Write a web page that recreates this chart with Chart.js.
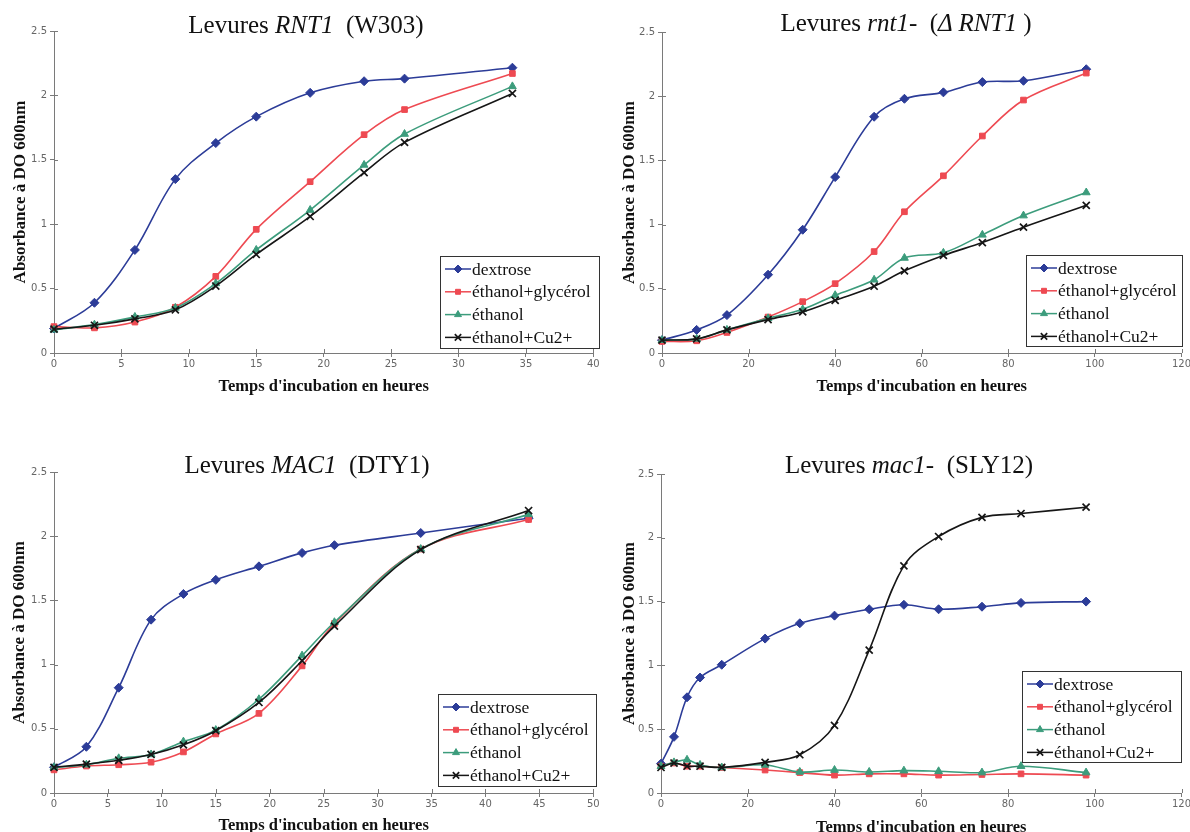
<!DOCTYPE html>
<html>
<head>
<meta charset="utf-8">
<script src="https://cdn.jsdelivr.net/npm/chart.js@4/dist/chart.umd.min.js"></script>
<style>
  body { margin: 0; background: #fff; }
  #page { position: relative; width: 1190px; height: 832px; overflow: hidden; background: #fff; }
  canvas { position: absolute; }
  .title {
    position: absolute; white-space: nowrap; transform: translate(-50%, -50%);
    font-family: "Liberation Serif", "Times New Roman", serif; font-size: 25px; color: #111;
  }
</style>
</head>
<body>
<div id="page">
  <canvas id="c1" width="600" height="400" style="left:0;top:0"></canvas>
  <canvas id="c2" width="590" height="400" style="left:600px;top:0"></canvas>
  <canvas id="c3" width="600" height="412" style="left:0;top:420px"></canvas>
  <canvas id="c4" width="590" height="412" style="left:600px;top:420px"></canvas>

  <div class="title" style="left:306px;top:25px">Levures <i>RNT1</i>&nbsp;&nbsp;(W303)</div>
  <div class="title" style="left:906px;top:23px">Levures <i>rnt1-</i>&nbsp;&nbsp;(<i>Δ RNT1</i> )</div>
  <div class="title" style="left:307px;top:465px">Levures <i>MAC1</i>&nbsp;&nbsp;(DTY1)</div>
  <div class="title" style="left:909px;top:465px">Levures <i>mac1-</i>&nbsp;&nbsp;(SLY12)</div>
</div>

<script>
// series names and tick labels
const seriesNames = ["dextrose", "éthanol+glycérol", "éthanol", "éthanol+Cu2+"];
const yTickLabels = ["0", "0.5", "1", "1.5", "2", "2.5"];
const xTicks40 = ["0", "5", "10", "15", "20", "25", "30", "35", "40"];
const xTicks50 = ["0", "5", "10", "15", "20", "25", "30", "35", "40", "45", "50"];
const xTicks120 = ["0", "20", "40", "60", "80", "100", "120"];

// Levures RNT1 (W303)
const hoursRnt1 = [0, 3, 6, 9, 12, 15, 19, 23, 26, 34];
const rnt1Dextrose = [0.19, 0.39, 0.80, 1.35, 1.63, 1.835, 2.02, 2.11, 2.13, 2.215];
const rnt1EthGly = [0.205, 0.195, 0.24, 0.355, 0.595, 0.96, 1.33, 1.695, 1.89, 2.17];
const rnt1Eth = [0.18, 0.22, 0.28, 0.35, 0.54, 0.80, 1.11, 1.46, 1.70, 2.07];
const rnt1Cu = [0.185, 0.215, 0.265, 0.335, 0.52, 0.765, 1.06, 1.40, 1.635, 2.015];

// Levures rnt1- (delta RNT1)
const hoursDelta = [0, 8, 15, 24.5, 32.5, 40, 49, 56, 65, 74, 83.5, 98];
const deltaDextrose = [0.10, 0.18, 0.295, 0.61, 0.96, 1.37, 1.84, 1.98, 2.03, 2.11, 2.12, 2.21];
const deltaEthGly = [0.09, 0.095, 0.16, 0.28, 0.40, 0.54, 0.79, 1.10, 1.38, 1.69, 1.97, 2.18];
const deltaEth = [0.10, 0.11, 0.18, 0.27, 0.34, 0.45, 0.57, 0.74, 0.78, 0.92, 1.07, 1.25];
const deltaCu = [0.10, 0.11, 0.18, 0.26, 0.32, 0.41, 0.52, 0.64, 0.76, 0.86, 0.98, 1.15];

// Levures MAC1 (DTY1)
const hoursMac1 = [0, 3, 6, 9, 12, 15, 19, 23, 26, 34, 44];
const mac1Dextrose = [0.20, 0.36, 0.82, 1.35, 1.55, 1.66, 1.765, 1.87, 1.93, 2.025, 2.14];
const mac1EthGly = [0.18, 0.21, 0.22, 0.24, 0.32, 0.46, 0.62, 0.99, 1.32, 1.90, 2.13];
const mac1Eth = [0.20, 0.22, 0.27, 0.30, 0.40, 0.49, 0.73, 1.07, 1.33, 1.90, 2.17];
const mac1Cu = [0.20, 0.225, 0.255, 0.30, 0.375, 0.485, 0.705, 1.03, 1.30, 1.895, 2.20];

// Levures mac1- (SLY12)
const hoursSly = [0, 3, 6, 9, 14, 24, 32, 40, 48, 56, 64, 74, 83, 98];
const slyDextrose = [0.23, 0.44, 0.75, 0.905, 1.005, 1.21, 1.33, 1.39, 1.44, 1.475, 1.44, 1.46, 1.49, 1.50];
const slyEthGly = [0.21, 0.235, 0.21, 0.21, 0.20, 0.18, 0.16, 0.14, 0.15, 0.15, 0.14, 0.145, 0.15, 0.14];
const slyEth = [0.21, 0.24, 0.26, 0.22, 0.20, 0.22, 0.165, 0.18, 0.165, 0.175, 0.17, 0.16, 0.21, 0.16];
const slyCu = [0.20, 0.235, 0.21, 0.21, 0.20, 0.24, 0.30, 0.53, 1.12, 1.78, 2.01, 2.16, 2.19, 2.24];

const colors = ["#2c3c98", "#ee4a52", "#3c9c7c", "#161616"];
const pointStyles = ["rectRot", "rect", "triangle", "crossRot"];
const pointRadius = [4.5, 4, 4.5, 5];

const axisColor = "#7a7a7a";
const serif = '"Liberation Serif", "Times New Roman", serif';

// small inner tick marks (the reference ticks cross the axis line)
const innerTicks = {
  id: "innerTicks",
  afterDraw(chart) {
    const ctx = chart.ctx;
    const xs = chart.scales.x, ys = chart.scales.y;
    ctx.save();
    ctx.strokeStyle = axisColor;
    ctx.lineWidth = 1;
    ctx.beginPath();
    xs.ticks.forEach((t) => {
      const px = Math.round(xs.getPixelForValue(t.value)) + 0.5;
      ctx.moveTo(px, ys.bottom);
      ctx.lineTo(px, ys.bottom - 4);
    });
    ys.ticks.forEach((t) => {
      const py = Math.round(ys.getPixelForValue(t.value)) + 0.5;
      ctx.moveTo(xs.left, py);
      ctx.lineTo(xs.left + 4, py);
    });
    ctx.stroke();
    ctx.restore();
  },
};

// boxed legend sitting inside the plot, bottom right
const boxLegend = {
  id: "boxLegend",
  afterDraw(chart, args, opts) {
    const ctx = chart.ctx;
    const b = opts.box;
    ctx.save();
    ctx.fillStyle = "#fff";
    ctx.fillRect(b.x, b.y, b.w, b.h);
    ctx.strokeStyle = "#333";
    ctx.lineWidth = 1;
    ctx.strokeRect(b.x + 0.5, b.y + 0.5, b.w - 1, b.h - 1);
    ctx.font = "17.5px " + serif;
    ctx.textBaseline = "middle";
    chart.data.datasets.forEach((ds, i) => {
      const y = b.y + opts.first + i * opts.step;
      ctx.strokeStyle = ds.borderColor;
      ctx.lineWidth = 1.5;
      ctx.beginPath();
      ctx.moveTo(b.x + 5, y);
      ctx.lineTo(b.x + 31, y);
      ctx.stroke();
      ctx.fillStyle = ds.pointBackgroundColor;
      ctx.strokeStyle = ds.pointBorderColor;
      ctx.lineWidth = ds.pointBorderWidth;
      Chart.helpers.drawPoint(ctx, {
        pointStyle: ds.pointStyle, radius: ds.pointRadius - 0.5,
        borderWidth: ds.pointBorderWidth, rotation: 0,
      }, b.x + 18, y);
      ctx.fillStyle = "#111";
      ctx.fillText(ds.label, b.x + 32, y + 1);
    });
    ctx.restore();
  },
};

function makeChart(id, cfg) {
  const datasets = cfg.series.map((vals, i) => ({
    label: seriesNames[i],
    data: cfg.hours.map((h, k) => ({ x: h, y: vals[k] })),
    borderColor: colors[i],
    borderWidth: 1.6,
    pointStyle: pointStyles[i],
    pointRadius: pointRadius[i],
    pointBackgroundColor: colors[i],
    pointBorderColor: colors[i],
    pointBorderWidth: i === 3 ? 1.7 : 1,
    tension: 0.35,
    clip: false,
    order: 3 - i,
  }));

  return new Chart(document.getElementById(id), {
    type: "line",
    data: { datasets },
    options: {
      responsive: false,
      animation: false,
      devicePixelRatio: 1,
      layout: { padding: { left: 0, top: cfg.top, right: cfg.right, bottom: 0 } },
      plugins: {
        legend: { display: false },
        tooltip: { enabled: false },
        boxLegend: { box: cfg.legend, first: 13, step: 22.8 },
      },
      scales: {
        x: {
          type: "linear",
          min: 0,
          max: cfg.xMax,
          ticks: {
            stepSize: cfg.xStep,
            autoSkip: false,
            maxRotation: 0,
            padding: 1,
            color: "#666",
            font: { family: '"DejaVu Sans", sans-serif', size: 10 },
            callback: (v, i) => cfg.xLabels[i],
          },
          grid: { drawOnChartArea: false, tickLength: 4, color: axisColor },
          border: { color: axisColor, width: 1 },
          title: {
            display: true,
            text: "Temps d'incubation en heures",
            color: "#111",
            font: { family: serif, size: 16.5, weight: "bold" },
            padding: { top: 0, bottom: cfg.xTitlePad },
          },
          afterFit: (s) => {
            s.height = cfg.h - cfg.bottom;
            s.paddingLeft = 0;
            s.paddingRight = 0;
          },
        },
        y: {
          min: 0,
          max: 2.5,
          ticks: {
            stepSize: 0.5,
            padding: 3,
            color: "#666",
            font: { family: '"DejaVu Sans", sans-serif', size: 10 },
            callback: (v, i) => yTickLabels[i],
          },
          grid: { drawOnChartArea: false, tickLength: 4, color: axisColor },
          border: { color: axisColor, width: 1 },
          title: {
            display: true,
            text: "Absorbance à DO 600nm",
            color: "#111",
            font: { family: serif, size: 17, weight: "bold" },
            padding: { top: cfg.yTitlePad, bottom: 0 },
          },
          afterFit: (s) => {
            s.width = cfg.left;
            s.paddingTop = 0;
            s.paddingBottom = 0;
          },
        },
      },
    },
    plugins: [innerTicks, boxLegend],
  });
}

makeChart("c1", {
  hours: hoursRnt1,
  series: [rnt1Dextrose, rnt1EthGly, rnt1Eth, rnt1Cu],
  xMax: 40, xStep: 5, xLabels: xTicks40,
  h: 400, left: 54, top: 31, right: 2, bottom: 353,
  xTitlePad: 3, yTitlePad: 10.5,
  legend: { x: 440, y: 256, w: 160, h: 93 },
});

makeChart("c2", {
  hours: hoursDelta,
  series: [deltaDextrose, deltaEthGly, deltaEth, deltaCu],
  xMax: 120, xStep: 20, xLabels: xTicks120,
  h: 400, left: 62, top: 32, right: 8.5, bottom: 353,
  xTitlePad: 3, yTitlePad: 19.5,
  legend: { x: 426, y: 255, w: 157, h: 92 },
});

makeChart("c3", {
  hours: hoursMac1,
  series: [mac1Dextrose, mac1EthGly, mac1Eth, mac1Cu],
  xMax: 50, xStep: 5, xLabels: xTicks50,
  h: 412, left: 54, top: 52, right: 5, bottom: 373,
  xTitlePad: -4, yTitlePad: 9.5,
  legend: { x: 438, y: 274, w: 159, h: 93 },
});

makeChart("c4", {
  hours: hoursSly,
  series: [slyDextrose, slyEthGly, slyEth, slyCu],
  xMax: 120, xStep: 20, xLabels: xTicks120,
  h: 412, left: 61, top: 54, right: 8.5, bottom: 373,
  xTitlePad: -6, yTitlePad: 19,
  legend: { x: 422, y: 251, w: 160, h: 92 },
});
</script>
</body>
</html>
